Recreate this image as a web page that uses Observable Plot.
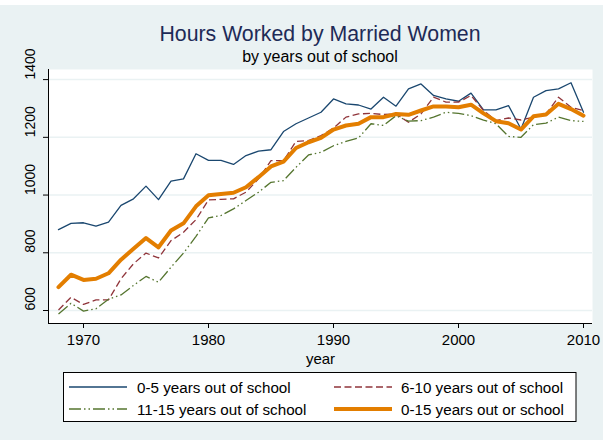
<!DOCTYPE html>
<html><head><meta charset="utf-8">
<script src="https://cdn.jsdelivr.net/npm/d3@7"></script>
<script src="https://cdn.jsdelivr.net/npm/@observablehq/plot@0.6"></script>
<style>
body{margin:0;background:#EAF2F3;}
#wrap{position:relative;width:603px;height:440px;background:#EAF2F3;overflow:hidden;font-family:"Liberation Sans",Arial,sans-serif;}
#topstrip{position:absolute;left:0;top:0;width:603px;height:5px;background:#fff;}
#title{position:absolute;left:0;width:640px;top:24px;text-align:center;font-size:21.3px;line-height:21px;color:#1e2b57;white-space:nowrap;}
#subtitle{position:absolute;left:0;width:640px;top:49px;text-align:center;font-size:16px;line-height:16px;color:#000;white-space:nowrap;}
#chart{position:absolute;left:0;top:0;}
#legend{position:absolute;left:0;top:0;}
</style></head><body>
<div id="wrap">
<div id="topstrip"></div>
<div id="chart"></div>
<div id="title">Hours Worked by Married Women</div>
<div id="subtitle">by years out of school</div>
<svg id="legend" width="603" height="440"></svg>
</div>
<script>
const years = [1968,1969,1970,1971,1972,1973,1974,1975,1976,1977,1978,1979,1980,1981,1982,1983,1984,1985,1986,1987,1988,1989,1990,1991,1992,1993,1994,1995,1996,1997,1998,1999,2000,2001,2002,2003,2004,2005,2006,2007,2008,2009,2010];
const hours0to5 = [880,902,904,892,906,964,987,1031,984,1048,1056,1143,1120,1120,1106,1137,1152,1157,1220,1247,1267,1287,1333,1316,1312,1298,1339,1308,1368,1385,1345,1333,1325,1353,1295,1295,1310,1229,1339,1362,1368,1389,1287];
const hours6to10 = [602,646,621,637,637,710,762,799,782,842,871,915,983,985,987,1010,1056,1119,1119,1186,1189,1206,1232,1270,1281,1283,1279,1281,1252,1281,1339,1322,1322,1345,1293,1258,1267,1260,1270,1281,1339,1304,1293];
const hours11to15 = [588,625,598,606,639,654,687,718,698,750,799,857,921,929,952,981,1010,1044,1050,1096,1139,1148,1171,1186,1198,1247,1241,1275,1256,1258,1270,1287,1283,1275,1260,1247,1203,1200,1244,1249,1270,1258,1255];
const hours0to15 = [681,724,706,710,729,776,814,851,819,877,902,961,999,1004,1008,1027,1062,1099,1116,1163,1183,1198,1227,1241,1247,1270,1270,1281,1278,1293,1307,1307,1304,1313,1283,1256,1249,1227,1273,1279,1316,1298,1275];
const seriesNames = ["0-5 years out of school","6-10 years out of school","11-15 years out of school","0-15 years out or school"];
const yTicks = [600,800,1000,1200,1400];
const xTicks = [1970,1980,1990,2000,2010];

const seriesStyles = [
  {values: hours0to5, color:"#1A476F", width:1.3, dash:null},
  {values: hours6to10, color:"#90353B", width:1.3, dash:"7 3.5"},
  {values: hours11to15, color:"#55752F", width:1.3, dash:"12 3 1.5 3 1.5 3"},
  {values: hours0to15, color:"#E37E00", width:4, dash:null}
];
const series = seriesStyles.map((s,i)=>({...s, name: seriesNames[i],
  rows: years.map((yr,j)=>({year:yr, hours:s.values[j], series:seriesNames[i]}))}));

const xMin = 1967.2, yMin = 555;
const chart = Plot.plot({
  width:603, height:370,
  marginLeft:48, marginRight:11, marginTop:69, marginBottom:47,
  x:{domain:[xMin,2010.72]},
  y:{domain:[yMin,1435]},
  style:{background:"transparent", fontFamily:'"Liberation Sans",Arial,sans-serif', color:"#000"},
  marks:[
    Plot.frame({fill:"white", stroke:null}),
    Plot.ruleY(yTicks, {stroke:"#EAF2F3", strokeWidth:1.5}),
    ...series.map(s => Plot.line(s.rows, {x:"year", y:"hours", stroke:s.color, strokeWidth:s.width, strokeDasharray:s.dash, strokeLinejoin:"round", strokeLinecap: s.dash ? "butt" : "round"})),
    Plot.ruleX([xMin], {stroke:"#000", strokeWidth:1}),
    Plot.ruleY([yMin], {stroke:"#000", strokeWidth:1}),
    Plot.axisY({ticks:yTicks, tickSize:5, tickFormat:()=>"", label:null}),
    Plot.text(yTicks, {y:d=>d, frameAnchor:"left", dx:-18, rotate:-90, text:d=>String(d), fontSize:14, fill:"#000"}),
    Plot.axisX({ticks:xTicks, tickSize:5, tickPadding:6, tickFormat:d=>String(d), fontSize:15, label:null}),
    Plot.text(["year"], {frameAnchor:"bottom", dy:40, text:d=>d, fontSize:15, fill:"#000"})
  ]
});
document.getElementById("chart").appendChild(chart);

// legend
const lg = d3.select("#legend");
lg.append("rect").attr("x",63.5).attr("y",372.5).attr("width",512.5).attr("height",49)
  .attr("fill","#fff").attr("stroke","#000").attr("stroke-width",1);
const pos = [{x1:69,x2:127,tx:137,y:387},{x1:334,x2:392,tx:401,y:387},{x1:69,x2:127,tx:137,y:409},{x1:334,x2:392,tx:401,y:409}];
series.forEach((s,i)=>{
  const p = pos[i];
  lg.append("line").attr("x1",p.x1).attr("x2",p.x2).attr("y1",p.y).attr("y2",p.y)
    .attr("stroke",s.color).attr("stroke-width",s.width).attr("stroke-dasharray",s.dash);
  lg.append("text").attr("x",p.tx).attr("y",p.y+5.5).attr("font-size",15.2)
    .attr("font-family",'"Liberation Sans",Arial,sans-serif').attr("fill","#000").text(s.name);
});
</script>
</body></html>
